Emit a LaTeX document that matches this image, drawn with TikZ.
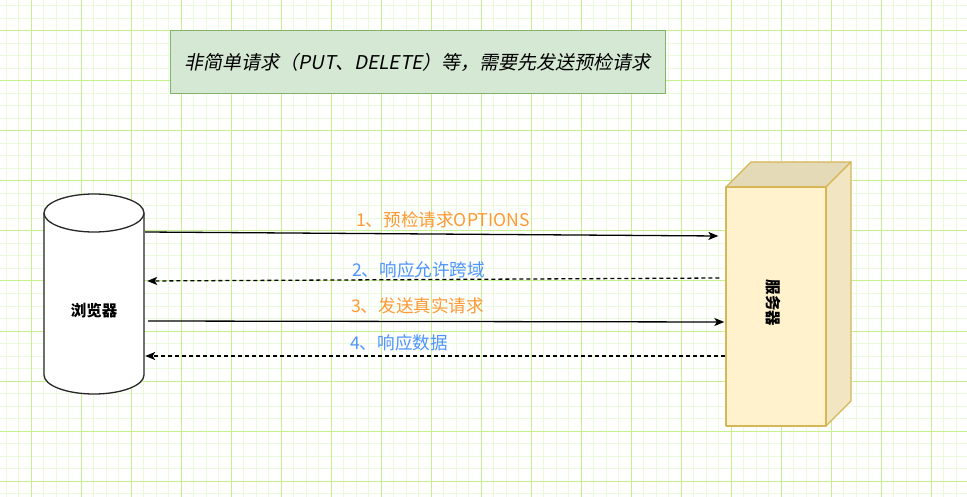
\documentclass[tikz,border=0pt]{standalone}
\usepackage{fontspec}
\setmainfont{Noto Sans CJK SC}
\newfontfamily\slantfont{Noto Sans CJK SC}[FakeSlant=0.2]
\usetikzlibrary{positioning, arrows.meta, calc}
\definecolor{gridmajor}{HTML}{C6F08E}
\definecolor{gridminor}{HTML}{EBFADC}
\definecolor{notegreen}{HTML}{D5E8D4}
\definecolor{notegreenline}{HTML}{82B366}
\definecolor{serveryellow}{HTML}{FFF2CC}
\definecolor{serveryellowline}{HTML}{D6B656}
\definecolor{reqorange}{HTML}{FF9933}
\definecolor{resblue}{HTML}{4D94FF}
\newcommand{\fillcolororange}{reqorange}
\newcommand{\fillcolorblue}{resblue}
\newcommand{\fillcolorserver}{serveryellow}

\begin{document}
\begin{tikzpicture}[x=1pt, y=-1pt, line join=round,
	minorline/.style={draw=gridminor, line width=1pt},
	majorline/.style={draw=gridmajor, line width=1pt},
	cyl/.style={draw=black!85, line width=1.3pt, fill=white},
	face/.style={draw=serveryellowline, line width=1.3pt},
	req/.style={draw=black, line width=1.3pt, -{Stealth[length=10pt, width=8pt, inset=2.5pt]}},
	res/.style={req, dash pattern=on 4pt off 3pt},
	lbl/.style={anchor=west, inner sep=0pt, font=\fontsize{17.6}{20}\selectfont},
	bold/.style={font=\fontsize{15.5}{18}\selectfont\bfseries}]
				\useasboundingbox (0,0) rectangle (967,497);
				\fill[white] (0,0) rectangle (967,497);
				% grid
				\foreach \g in {6,18.5,...,966} \draw[minorline] (\g,0) -- (\g,497);
				\foreach \g in {6,18.5,...,496} \draw[minorline] (0,\g) -- (967,\g);
				\foreach \g in {31,81,...,931} \draw[majorline] (\g,0) -- (\g,497);
				\foreach \g in {31,81,...,481} \draw[majorline] (0,\g) -- (967,\g);

				% note
				\node [draw=notegreenline, fill=notegreen, line width=1pt, minimum width=495, minimum height=63, inner sep=0pt] at (417.5,62.5) (note) {\slantfont\fontsize{19}{22}\selectfont 非简单请求（PUT、DELETE）等，需要先发送预检请求};

				% browser
				\draw[cyl] (44,213) -- (44,375) arc[start angle=180, end angle=0, x radius=50, y radius=19] -- (144,213);
				\draw[cyl] (94,213) ellipse [x radius=50, y radius=19];
				\node [minimum width=100, minimum height=200, inner sep=0pt] at (94,294) (browser) {};
				\node [bold] at (94,311) (browsertext) {浏览器};

				% server
				\draw[face, fill=\fillcolorserver!90!black] (726,187) -- (751,162) -- (851,162) -- (826,187) -- cycle;
				\draw[face, fill=\fillcolorserver!95!black] (826,187) -- (851,162) -- (851,401) -- (826,426) -- cycle;
				\node [face, fill=\fillcolorserver, minimum width=100, minimum height=239, inner sep=0pt] at (776,306.5) (server) {};
				\node [bold, rotate=-90] at (773,303) (servertext) {服务器};

				% messages
				\draw[req] ([xshift=1pt, yshift=62pt]browser.east) -- ([xshift=-7pt, yshift=70.5pt]server.west);
				\draw[res] ([xshift=-6pt, yshift=28.5pt]server.west) -- ([xshift=3pt, yshift=13pt]browser.east);
				\draw[req] ([xshift=4pt, yshift=-27pt]browser.east) -- ([xshift=-1pt, yshift=-15.5pt]server.west);
				\draw[res] ([yshift=-49.5pt]server.west) -- ([xshift=1pt, yshift=-62pt]browser.east);

				\node [lbl, text=\fillcolororange] at (356,220) (m1) {1、预检请求OPTIONS};
				\node [lbl, text=\fillcolorblue] at (352,270) (m2) {2、响应允许跨域};
				\node [lbl, text=\fillcolororange] at (351,306) (m3) {3、发送真实请求};
				\node [lbl, text=\fillcolorblue] at (350,343) (m4) {4、响应数据};
\end{tikzpicture}
\end{document}
